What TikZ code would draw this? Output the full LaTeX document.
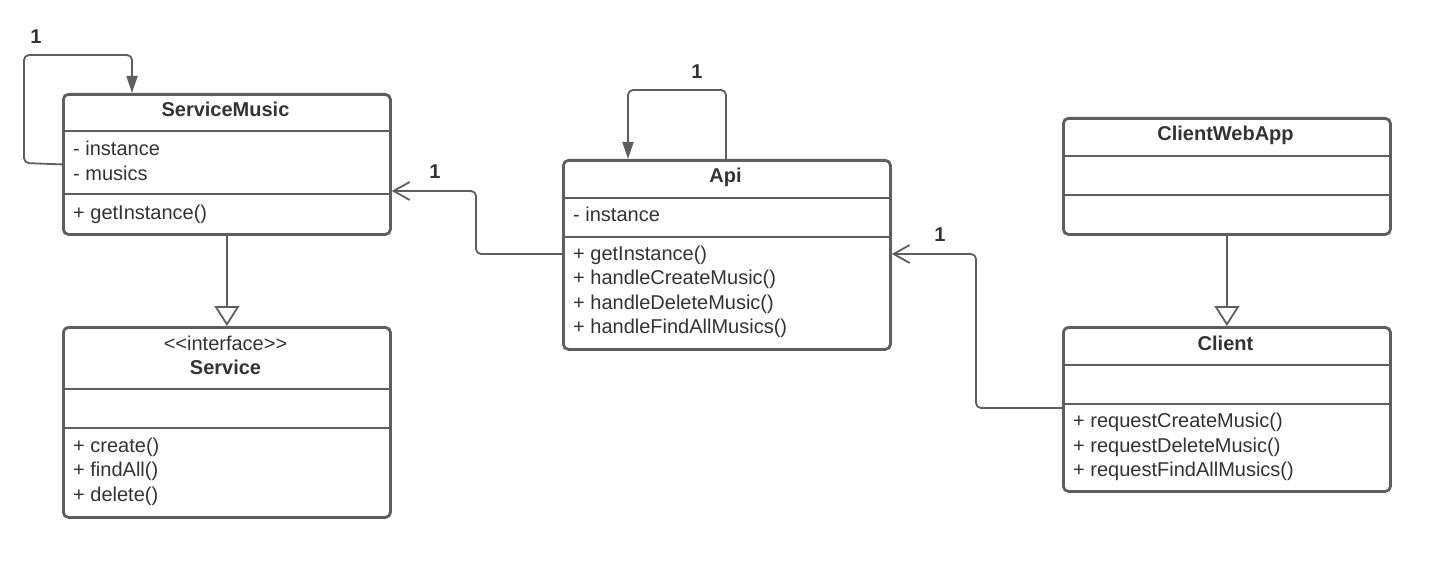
\documentclass[tikz,border=0pt]{standalone}
\usepackage{fontspec}
\setmainfont{Liberation Sans}
\usetikzlibrary{arrows.meta}
\definecolor{linec}{HTML}{5E5E5E}
\definecolor{textc}{HTML}{333333}
\tikzset{
  classbox/.style={draw=linec, line width=2.8pt, rounded corners=5pt, fill=white, inner sep=0pt, anchor=north west},
  divider/.style={draw=linec, line width=2.6pt},
  member/.style={anchor=base west, inner sep=0pt, text=textc, font=\fontsize{20}{24}\selectfont},
  ctitle/.style={anchor=base, inner sep=0pt, text=textc, font=\fontsize{20}{24}\selectfont\bfseries},
  stereo/.style={anchor=base, inner sep=0pt, text=textc, font=\fontsize{20}{24}\selectfont},
  mult/.style={inner sep=0pt, text=textc, font=\fontsize{20}{24}\selectfont\bfseries},
  assoc/.style={draw=linec, line width=1.8pt, rounded corners=5pt, -{Straight Barb[length=16pt,width=18pt,line width=1.8pt]}},
  selfassoc/.style={draw=linec, line width=1.8pt, rounded corners=5pt, -{Triangle[length=17pt,width=11pt]}},
  general/.style={draw=linec, line width=1.8pt, -{Triangle[open,length=20pt,width=25pt,fill=white,line width=1.8pt]}}
}
\begin{document}
\begin{tikzpicture}[x=1pt,y=-1pt]
\useasboundingbox (0,0) rectangle (1445,564);

% ServiceMusic
\node[classbox, minimum width=327pt, minimum height=140pt] (sm) at (62,93) {};
\draw[divider] (sm.west |- 0,131) -- (sm.east |- 0,131);
\draw[divider] (sm.west |- 0,194) -- (sm.east |- 0,194);
\node[ctitle] (smt) at (225.5,117) {ServiceMusic};
\node[member] (sma1) at (73,156) {- instance};
\node[member] (sma2) at (73,180.5) {- musics};
\node[member] (smm1) at (73,219) {+ getInstance()};

% Service
\node[classbox, minimum width=327pt, minimum height=190pt] (svc) at (62,326) {};
\draw[divider] (svc.west |- 0,389) -- (svc.east |- 0,389);
\draw[divider] (svc.west |- 0,428) -- (svc.east |- 0,428);
\node[stereo] (svcs) at (225.5,350) {<\kern0pt<interface>\kern0pt>};
\node[ctitle] (svct) at (225.5,374.5) {Service};
\node[member] (svcm1) at (73,452) {+ create()};
\node[member] (svcm2) at (73,476.5) {+ findAll()};
\node[member] (svcm3) at (73,501) {+ delete()};

% Api
\node[classbox, minimum width=327pt, minimum height=189pt] (api) at (562,159) {};
\draw[divider] (api.west |- 0,198) -- (api.east |- 0,198);
\draw[divider] (api.west |- 0,237) -- (api.east |- 0,237);
\node[ctitle] (apit) at (725.5,183) {Api};
\node[member] (apia1) at (573,222) {- instance};
\node[member] (apim1) at (573,260) {+ getInstance()};
\node[member] (apim2) at (573,284.5) {+ handleCreateMusic()};
\node[member] (apim3) at (573,309) {+ handleDeleteMusic()};
\node[member] (apim4) at (573,333.5) {+ handleFindAllMusics()};

% ClientWebApp
\node[classbox, minimum width=327pt, minimum height=116pt] (cwa) at (1062,117) {};
\draw[divider] (cwa.west |- 0,156) -- (cwa.east |- 0,156);
\draw[divider] (cwa.west |- 0,195) -- (cwa.east |- 0,195);
\node[ctitle] (cwat) at (1225.5,141) {ClientWebApp};

% Client
\node[classbox, minimum width=327pt, minimum height=164pt] (cl) at (1062,326) {};
\draw[divider] (cl.west |- 0,365) -- (cl.east |- 0,365);
\draw[divider] (cl.west |- 0,404) -- (cl.east |- 0,404);
\node[ctitle] (clt) at (1225.5,350) {Client};
\node[member] (clm1) at (1073,427.5) {+ requestCreateMusic()};
\node[member] (clm2) at (1073,452) {+ requestDeleteMusic()};
\node[member] (clm3) at (1073,476.5) {+ requestFindAllMusics()};

% self associations
\draw[selfassoc] (sm.west) -- (24,163) -- (24,55) -- (132,55) -- (sm.north -| 132,0);
\node[mult] (m1) at (36,37) {1};
\draw[selfassoc] (api.north -| 726,0) -- (726,90) -- (628,90) -- (api.north -| 628,0);
\node[mult] (m2) at (697,72) {1};

% associations
\draw[assoc] (api.west |- 0,254) -- (476,254) -- (476,191) -- (sm.east |- 0,191);
\node[mult] (m3) at (435,172) {1};
\draw[assoc] (cl.west |- 0,408) -- (976,408) -- (976,254) -- (api.east |- 0,254);
\node[mult] (m4) at (940,235) {1};

% generalizations
\draw[general] (sm.south) -- (svc.north);
\draw[general] (cwa.south) -- (cl.north);
\end{tikzpicture}
\end{document}
